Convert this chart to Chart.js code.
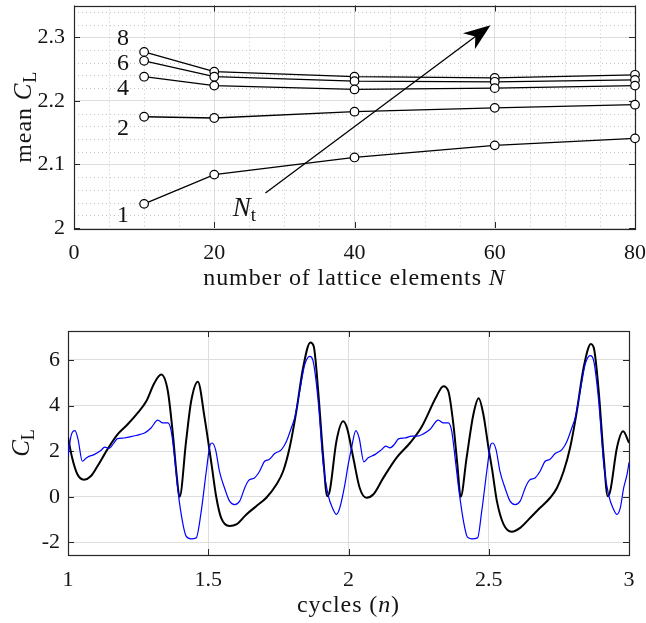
<!DOCTYPE html>
<html><head><meta charset="utf-8">
<script src="https://cdn.jsdelivr.net/npm/chart.js@4/dist/chart.umd.min.js"></script>
<style>
html,body{margin:0;padding:0;background:#fff;}
#wrap{position:relative;width:646px;height:623px;overflow:hidden;background:#fff;}
#c1{position:absolute;left:0;top:0;}
#c2{position:absolute;left:0;top:300px;}
</style></head><body>
<div id="wrap">
<canvas id="c1" width="646" height="300"></canvas>
<canvas id="c2" width="646" height="323"></canvas>
</div>
<script>
// ---------- Top chart data ----------
const latticeN = [10, 20, 40, 60, 80];
const meanCL_Nt1 = [2.038, 2.084, 2.111, 2.130, 2.141];
const meanCL_Nt2 = [2.175, 2.173, 2.183, 2.189, 2.194];
const meanCL_Nt4 = [2.238, 2.224, 2.218, 2.220, 2.224];
const meanCL_Nt6 = [2.263, 2.238, 2.231, 2.230, 2.233];
const meanCL_Nt8 = [2.277, 2.246, 2.238, 2.236, 2.241];
const NtNames = ['1', '2', '4', '6', '8'];
const NtNameN = [7, 7, 7, 7, 7];
const NtNameCL = [2.02, 2.156, 2.219, 2.258, 2.297];
const topXTicks = [0, 20, 40, 60, 80];
const topYTicks = [2, 2.1, 2.2, 2.3];
const topXMinor = [5, 10, 15, 25, 30, 35, 45, 50, 55, 65, 70, 75];
const topYMinor = [2.02, 2.04, 2.06, 2.08, 2.12, 2.14, 2.16, 2.18, 2.22, 2.24, 2.26, 2.28, 2.32, 2.34];
const arrowStart = [27.3, 2.055];
const arrowTip = [59.4, 2.319];
const NtTextAt = [24.3, 2.033];

// ---------- Bottom chart data ----------
const blackN = [1.000,1.015,1.033,1.057,1.081,1.105,1.140,1.176,1.212,1.250,1.279,1.308,1.332,1.356,1.374,1.386,1.398,1.421,1.439,1.463,1.487,1.512,1.529,1.546,1.576,1.600,1.636,1.671,1.707,1.743,1.767,1.790,1.814,1.838,1.864,1.876,1.892,1.910,1.924,1.933,1.957,1.981,1.995,2.017,2.040,2.064,2.088,2.124,2.171,2.219,2.260,2.314,2.338,2.356,2.374,2.388,2.400,2.421,2.445,2.464,2.481,2.499,2.512,2.529,2.553,2.582,2.612,2.648,2.683,2.719,2.743,2.767,2.790,2.814,2.838,2.864,2.876,2.892,2.910,2.924,2.933,2.957,2.979,3.000];
const blackCL = [2.60,1.70,1.00,0.75,0.90,1.34,2.07,2.73,3.17,3.70,4.19,4.99,5.36,4.63,2.73,1.12,0.00,2.44,4.19,5.05,3.46,1.40,-0.04,-0.92,-1.28,-1.21,-0.77,-0.41,-0.04,0.54,1.12,2.15,3.75,5.65,6.77,6.60,4.63,1.71,0.03,0.25,2.44,3.31,3.00,1.71,0.39,-0.04,0.10,0.83,1.71,2.36,3.05,4.41,4.85,4.63,3.17,1.42,0.00,1.71,3.60,4.32,3.60,2.15,1.20,-0.19,-1.21,-1.53,-1.36,-0.92,-0.48,-0.04,0.39,1.12,2.15,3.75,5.65,6.70,6.45,4.63,1.71,0.03,0.25,2.15,2.87,2.37];
const blueN = [1.000,1.012,1.025,1.036,1.051,1.060,1.069,1.093,1.117,1.131,1.146,1.164,1.176,1.200,1.224,1.242,1.257,1.273,1.296,1.320,1.338,1.356,1.368,1.380,1.392,1.410,1.421,1.439,1.457,1.475,1.493,1.507,1.514,1.526,1.540,1.558,1.576,1.594,1.612,1.630,1.645,1.665,1.683,1.701,1.717,1.737,1.761,1.779,1.796,1.808,1.826,1.844,1.862,1.874,1.892,1.910,1.927,1.945,1.957,1.969,1.987,1.999,2.011,2.026,2.038,2.055,2.070,2.094,2.118,2.133,2.148,2.165,2.178,2.201,2.225,2.243,2.267,2.290,2.320,2.338,2.356,2.368,2.380,2.394,2.412,2.424,2.439,2.460,2.475,2.493,2.507,2.514,2.526,2.540,2.558,2.576,2.594,2.612,2.630,2.645,2.665,2.683,2.701,2.717,2.737,2.761,2.779,2.796,2.808,2.826,2.844,2.862,2.874,2.892,2.910,2.927,2.945,2.957,2.969,2.981,2.993,3.000];
const blueCL = [1.78,2.73,2.90,2.51,1.56,1.64,1.74,1.85,2.03,2.18,2.12,2.37,2.55,2.58,2.64,2.69,2.74,2.80,3.02,3.36,3.24,3.24,2.88,1.71,0.25,-1.21,-1.72,-1.84,-1.80,-0.63,1.12,2.29,2.36,2.07,1.12,0.39,-0.19,-0.34,-0.19,0.39,0.73,0.83,1.12,1.56,1.64,1.90,2.07,2.44,3.02,3.46,4.63,5.80,6.16,5.94,4.19,1.42,0.10,-0.55,-0.77,-0.48,0.54,1.42,2.15,2.90,2.58,1.53,1.71,1.85,2.07,2.22,2.15,2.32,2.54,2.58,2.66,2.66,2.76,2.95,3.36,3.24,3.24,2.88,1.71,0.25,-1.21,-1.77,-1.84,-1.80,-0.63,1.12,2.29,2.36,2.07,1.12,0.39,-0.19,-0.34,-0.19,0.39,0.73,0.83,1.12,1.56,1.64,1.90,2.07,2.44,3.02,3.46,4.63,5.82,6.19,5.97,4.19,1.42,0.10,-0.55,-0.77,-0.48,0.39,0.98,1.50];
const botXTicks = [1, 1.5, 2, 2.5, 3];
const botYTicks = [-2, 0, 2, 4, 6];

// ---------- styling helpers ----------
const SERIF = '"Liberation Serif", "DejaVu Serif", serif';
const F = s => s + 'px ' + SERIF;
const FI = s => 'italic ' + s + 'px ' + SERIF;
const TXT = '#141414';
const GRID = '#dedede';
const MINOR = '#c4c4c4';
const fmt = v => String(Number(v.toFixed(3)));

function richText(ctx, parts, x, y, align, spacing) {
  ctx.letterSpacing = (spacing || 0) + 'px';
  let w = 0;
  parts.forEach(p => { ctx.font = p[1]; w += ctx.measureText(p[0]).width; });
  let cx = align === 'center' ? x - w / 2 : (align === 'right' ? x - w : x);
  ctx.textAlign = 'left'; ctx.textBaseline = 'alphabetic';
  parts.forEach(p => { ctx.font = p[1]; ctx.fillText(p[0], cx, y + (p[2] || 0)); cx += ctx.measureText(p[0]).width; });
  ctx.letterSpacing = '0px';
}

function fixAxis(size, horizontal) {
  return function (s) {
    if (horizontal) s.height = size; else s.width = size;
    s.paddingLeft = 0; s.paddingRight = 0; s.paddingTop = 0; s.paddingBottom = 0;
  };
}

function frameAndTicks(chart, xt, yt) {
  const ctx = chart.ctx, a = chart.chartArea, xs = chart.scales.x, ys = chart.scales.y;
  const L = 6;
  ctx.save();
  ctx.strokeStyle = '#262626'; ctx.lineWidth = 1;
  ctx.beginPath();
  xt.forEach(v => {
    const px = Math.round(xs.getPixelForValue(v)) + 0.5;
    ctx.moveTo(px, a.bottom); ctx.lineTo(px, a.bottom - L);
    ctx.moveTo(px, a.top); ctx.lineTo(px, a.top + L);
  });
  yt.forEach(v => {
    const py = Math.round(ys.getPixelForValue(v)) + 0.5;
    ctx.moveTo(a.left, py); ctx.lineTo(a.left + L, py);
    ctx.moveTo(a.right, py); ctx.lineTo(a.right - L, py);
  });
  ctx.stroke();
  ctx.lineWidth = 1.2;
  ctx.strokeRect(Math.round(a.left) + 0.5, Math.round(a.top) + 0.5, Math.round(a.right - a.left), Math.round(a.bottom - a.top));
  ctx.restore();
}

function axisScale(min, max, ticks, fitSize, horizontal, pad) {
  return {
    type: 'linear', min: min, max: max,
    afterBuildTicks: s => { s.ticks = ticks.map(v => ({ value: v })); },
    afterFit: fixAxis(fitSize, horizontal),
    grid: { color: GRID, lineWidth: 1, drawTicks: false },
    border: { display: false },
    ticks: { padding: pad, color: TXT, font: { family: SERIF, size: 22 }, maxRotation: 0, autoSkip: false, callback: v => fmt(v) }
  };
}

// ---------- Top chart ----------
const topSeries = [meanCL_Nt1, meanCL_Nt2, meanCL_Nt4, meanCL_Nt6, meanCL_Nt8];
const topPlugin = {
  id: 'topDeco',
  beforeDatasetsDraw(chart) {
    const ctx = chart.ctx, a = chart.chartArea, xs = chart.scales.x, ys = chart.scales.y;
    ctx.save();
    ctx.strokeStyle = MINOR; ctx.lineWidth = 1; ctx.setLineDash([1, 3]);
    ctx.beginPath();
    topXMinor.forEach(v => { const px = Math.round(xs.getPixelForValue(v)) + 0.5; ctx.moveTo(px, a.top); ctx.lineTo(px, a.bottom); });
    topYMinor.forEach(v => { const py = Math.round(ys.getPixelForValue(v)) + 0.5; ctx.moveTo(a.left, py); ctx.lineTo(a.right, py); });
    ctx.stroke();
    ctx.restore();
    frameAndTicks(chart, topXTicks, topYTicks);
  },
  afterDatasetsDraw(chart) {
    const ctx = chart.ctx, a = chart.chartArea, xs = chart.scales.x, ys = chart.scales.y;
    ctx.save();
    ctx.fillStyle = TXT;
    ctx.font = F(24); ctx.textAlign = 'center'; ctx.textBaseline = 'middle';
    NtNames.forEach((t, i) => ctx.fillText(t, xs.getPixelForValue(NtNameN[i]), ys.getPixelForValue(NtNameCL[i])));
    // arrow
    const x0 = xs.getPixelForValue(arrowStart[0]), y0 = ys.getPixelForValue(arrowStart[1]);
    const x1 = xs.getPixelForValue(arrowTip[0]), y1 = ys.getPixelForValue(arrowTip[1]);
    const dx = x1 - x0, dy = y1 - y0, len = Math.hypot(dx, dy), ux = dx / len, uy = dy / len, nx = -uy, ny = ux;
    const hl = 27, hw = 10, notch = 8;
    ctx.strokeStyle = '#000'; ctx.lineWidth = 1.3;
    ctx.beginPath(); ctx.moveTo(x0, y0); ctx.lineTo(x1 - ux * notch, y1 - uy * notch); ctx.stroke();
    ctx.fillStyle = '#000';
    ctx.beginPath();
    ctx.moveTo(x1, y1);
    ctx.lineTo(x1 - ux * hl + nx * hw, y1 - uy * hl + ny * hw);
    ctx.lineTo(x1 - ux * (hl - notch), y1 - uy * (hl - notch));
    ctx.lineTo(x1 - ux * hl - nx * hw, y1 - uy * hl - ny * hw);
    ctx.closePath(); ctx.fill();
    // N_t label
    ctx.fillStyle = TXT;
    richText(ctx, [['N', FI(27)], ['t', F(19), 5]], xs.getPixelForValue(NtTextAt[0]), ys.getPixelForValue(NtTextAt[1]) + 9, 'center');
    // axis titles
    richText(ctx, [['number of lattice elements ', F(24)], ['N', FI(24)]], (a.left + a.right) / 2, 285, 'center', 0.9);
    ctx.save();
    ctx.translate(31, (a.top + a.bottom) / 2); ctx.rotate(-Math.PI / 2);
    richText(ctx, [['mean ', F(24)], ['C', FI(25)], ['L', F(18), 5]], 0, 0, 'center', 0.9);
    ctx.restore();
    ctx.restore();
  }
};

new Chart(document.getElementById('c1'), {
  type: 'line',
  data: {
    datasets: topSeries.map(s => ({
      data: latticeN.map((n, i) => ({ x: n, y: s[i] })),
      borderColor: '#000', borderWidth: 1.3, tension: 0,
      pointRadius: 4.3, pointBackgroundColor: '#fff', pointBorderColor: '#000', pointBorderWidth: 1.2,
      clip: false
    }))
  },
  options: {
    responsive: false, animation: false, devicePixelRatio: 1,
    layout: { padding: { top: 3, right: 11, left: 0, bottom: 0 } },
    plugins: { legend: { display: false }, tooltip: { enabled: false } },
    scales: {
      x: axisScale(0, 80, topXTicks, 72, true, 12),
      y: axisScale(2, 2.35, topYTicks, 74, false, 9)
    }
  },
  plugins: [topPlugin]
});

// ---------- Bottom chart ----------
const botPlugin = {
  id: 'botDeco',
  beforeDatasetsDraw(chart) { frameAndTicks(chart, botXTicks, botYTicks); },
  afterDraw(chart) {
    const ctx = chart.ctx, a = chart.chartArea;
    ctx.save(); ctx.fillStyle = TXT;
    richText(ctx, [['cycles (', F(24)], ['n', FI(24)], [')', F(24)]], (a.left + a.right) / 2, 312, 'center', 0.9);
    ctx.translate(29, (a.top + a.bottom) / 2); ctx.rotate(-Math.PI / 2);
    richText(ctx, [['C', FI(25)], ['L', F(18), 5]], 0, 0, 'center');
    ctx.restore();
  }
};

new Chart(document.getElementById('c2'), {
  type: 'line',
  data: {
    datasets: [
      { data: blueN.map((n, i) => ({ x: n, y: blueCL[i] })), borderColor: '#0000ff', borderWidth: 1.2,
        pointRadius: 0, cubicInterpolationMode: 'monotone', order: 0 },
      { data: blackN.map((n, i) => ({ x: n, y: blackCL[i] })), borderColor: '#000', borderWidth: 2,
        pointRadius: 0, cubicInterpolationMode: 'monotone', order: 1 }
    ]
  },
  options: {
    responsive: false, animation: false, devicePixelRatio: 1,
    layout: { padding: { top: 31, right: 17, left: 0, bottom: 0 } },
    plugins: { legend: { display: false }, tooltip: { enabled: false } },
    scales: {
      x: axisScale(1, 3, botXTicks, 68, true, 12),
      y: axisScale(-2.55, 7.27, botYTicks, 68, false, 8)
    }
  },
  plugins: [botPlugin]
});
</script>
</body></html>
